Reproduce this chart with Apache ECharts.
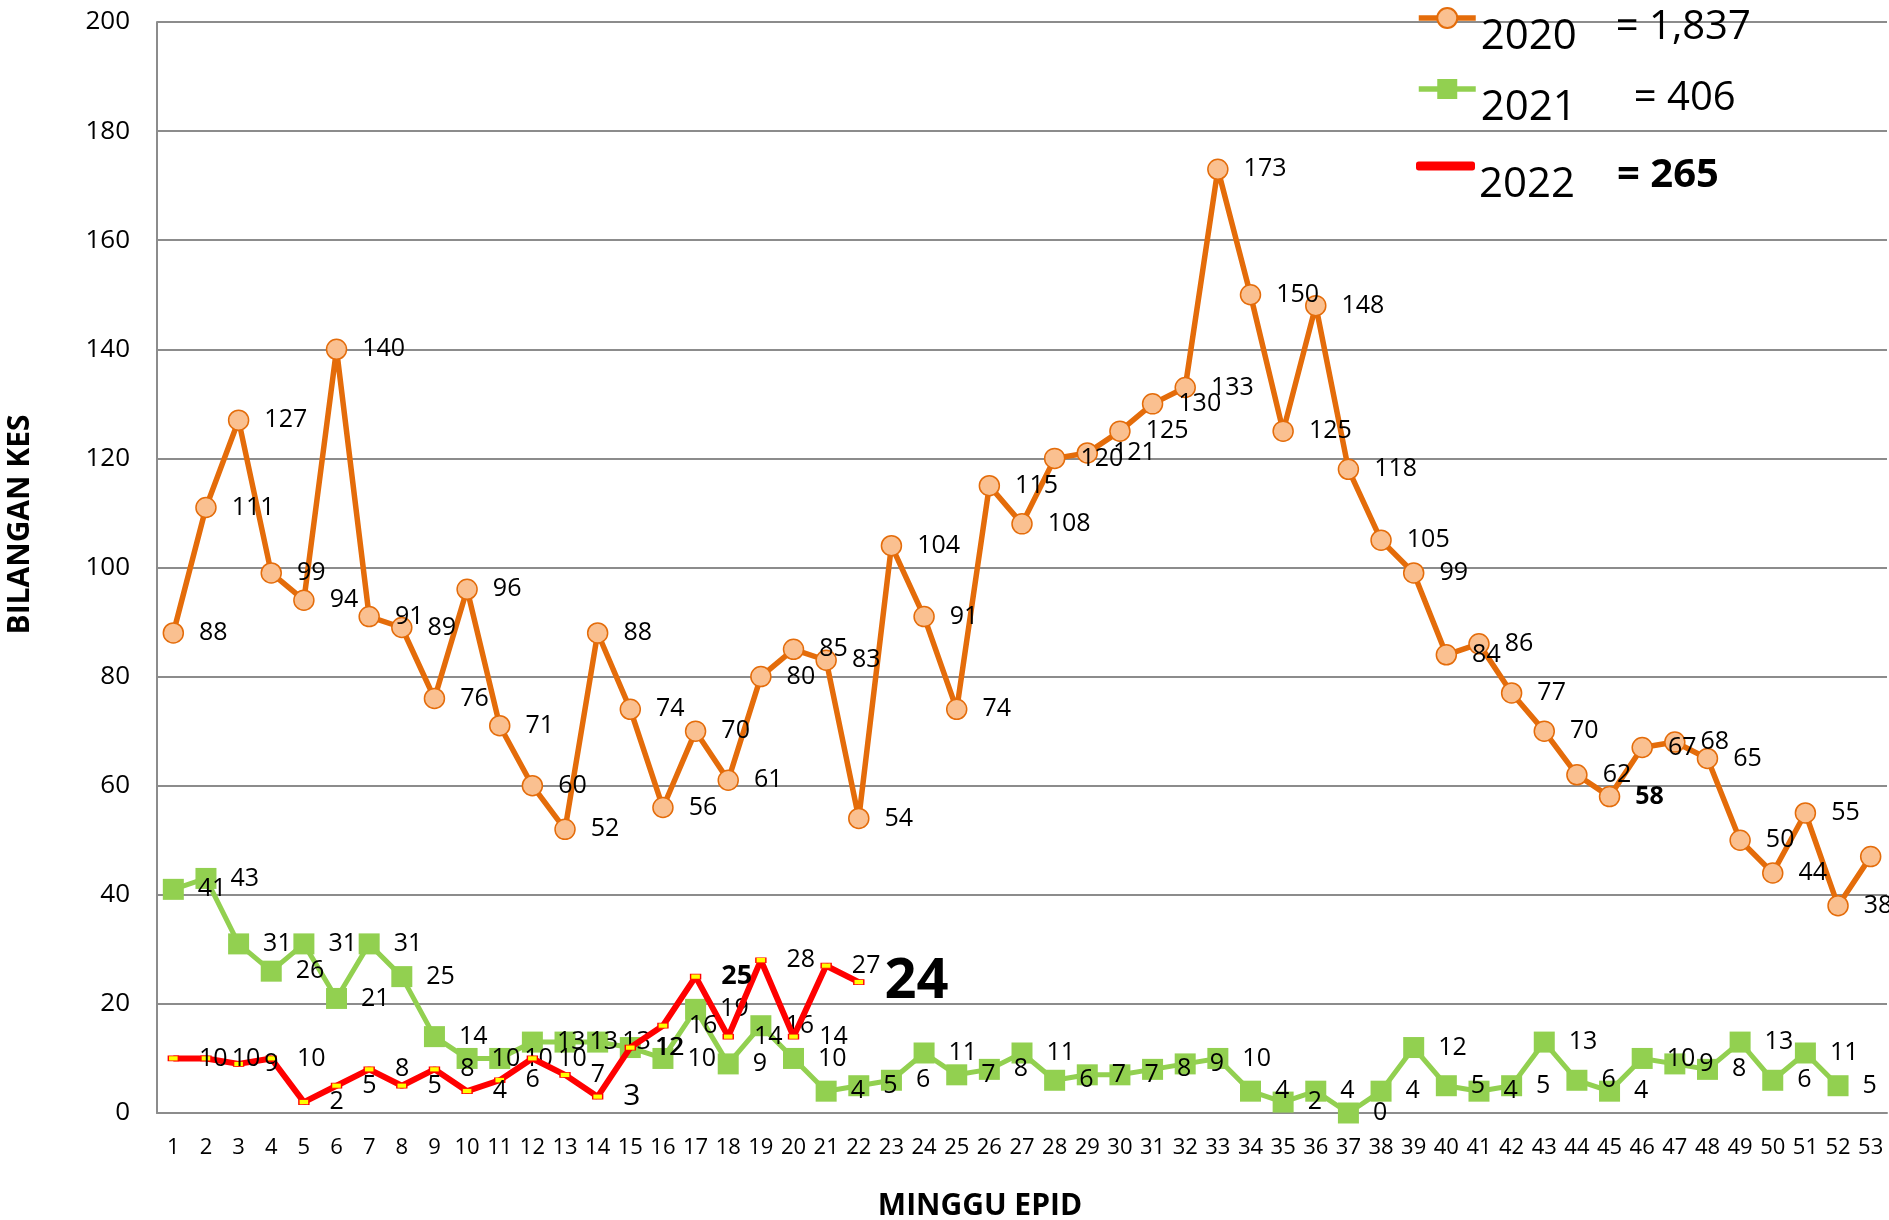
<!DOCTYPE html>
<html>
<head>
<meta charset="utf-8">
<script src="https://cdn.jsdelivr.net/npm/echarts@6/dist/echarts.min.js"></script>
<style>
  html, body { margin: 0; padding: 0; background: #fff; }
  #main { width: 1889px; height: 1220px; }
</style>
</head>
<body>
<div id="main"></div>
<script>
// minggu epid 1..53
const weeks = ['1','2','3','4','5','6','7','8','9','10','11','12','13','14','15','16','17','18','19','20',
  '21','22','23','24','25','26','27','28','29','30','31','32','33','34','35','36','37','38','39','40',
  '41','42','43','44','45','46','47','48','49','50','51','52','53'];

const cases2020 = [88,111,127,99,94,140,91,89,76,96,71,60,52,88,74,56,70,61,80,85,
  83,54,104,91,74,115,108,120,121,125,130,133,173,150,125,148,118,105,99,84,
  86,77,70,62,58,67,68,65,50,44,55,38,47];
const cases2021 = [41,43,31,26,31,21,31,25,14,10,10,13,13,13,12,10,19,9,16,10,
  4,5,6,11,7,8,11,6,7,7,8,9,10,4,2,4,0,4,12,5,
  4,5,13,6,4,10,9,8,13,6,11,5];
const cases2022 = [10,10,9,10,2,5,8,5,8,4,6,10,7,3,12,16,25,14,28,14,27,24];

const seriesNames = ['2020', '2021', '2022'];
const legendTotals = ['= 1,837', '= 406', '= 265'];

const FONT = 'Open Sans';

// label overrides by index (bold / bigger ones in the original)
const labelStyle2020 = { 44: { fontWeight: 'bold' } };
const labelStyle2022 = {
  13: { fontSize: 30 },
  16: { fontWeight: 'bold', fontSize: 27 },
  21: { fontWeight: 'bold', fontSize: 56 }
};

const withLabels = (values, styles) =>
  values.map((v, i) => (styles[i] ? { value: v, label: styles[i] } : v));

const dataLabel = (distance) => ({
  show: true,
  position: 'right',
  distance,
  color: '#000',
  fontFamily: FONT,
  fontSize: 25
});

// legend rows: top of each row box, width of the year part
const legendLayout = [
  { top: -22, yearWidth: 135 },
  { top: 49, yearWidth: 153 },
  { top: 126, yearWidth: 138 }
];

const chart = echarts.init(document.getElementById('main'));

const option = {
  animation: false,
  backgroundColor: '#fff',
  textStyle: { fontFamily: FONT },
  grid: { left: 157, right: 2, top: 22, bottom: 107, outerBoundsMode: 'none' },
  legend: seriesNames.map((name, i) => ({
    data: [i === 2 ? { name, icon: 'roundRect', itemStyle: { color: '#FF0000' } } : name],
    left: 1416,
    top: legendLayout[i].top,
    padding: 0,
    itemWidth: 57,
    itemHeight: i === 2 ? 7 : 25,
    selectedMode: false,
    lineStyle: { width: 5.5 },
    formatter: n => '{y|' + n + '}{t|' + legendTotals[i] + '}',
    textStyle: {
      rich: {
        y: {
          fontFamily: FONT, fontSize: 42, lineHeight: 50, color: '#000',
          width: legendLayout[i].yearWidth, padding: [38, 0, 0, 0]
        },
        t: {
          fontFamily: FONT, fontSize: 40, lineHeight: 50, color: '#000',
          fontWeight: i === 2 ? 'bold' : 'normal', padding: [20, 0, 0, 0]
        }
      }
    }
  })),
  xAxis: {
    type: 'category',
    data: weeks,
    boundaryGap: true,
    name: 'MINGGU EPID',
    nameLocation: 'middle',
    nameGap: 78,
    nameTextStyle: {
      fontFamily: FONT, fontSize: 30, fontWeight: 'bold', color: '#000',
      padding: [0, 84, 0, 0]
    },
    axisLine: { lineStyle: { color: '#8c8c8c', width: 2 } },
    axisTick: { show: false },
    axisLabel: { interval: 0, fontSize: 22, color: '#000', margin: 24 }
  },
  yAxis: {
    type: 'value',
    min: 0,
    max: 200,
    interval: 20,
    name: 'BILANGAN KES',
    nameLocation: 'middle',
    nameGap: 122,
    nameTextStyle: {
      fontFamily: FONT, fontSize: 30, fontWeight: 'bold', color: '#000',
      padding: [0, 0, 0, 86]
    },
    axisLine: { show: true, lineStyle: { color: '#8c8c8c', width: 2 } },
    axisTick: { show: false },
    axisLabel: { fontSize: 26, color: '#000', margin: 27 },
    splitLine: { lineStyle: { color: '#8c8c8c', width: 2 } }
  },
  series: [
    {
      name: '2020',
      type: 'line',
      data: withLabels(cases2020, labelStyle2020),
      symbol: 'circle',
      symbolSize: 20,
      lineStyle: { color: '#E46C0A', width: 5.5 },
      itemStyle: { color: '#FAC090', borderColor: '#E46C0A', borderWidth: 1.5 },
      label: dataLabel(15),
      z: 2
    },
    {
      name: '2021',
      type: 'line',
      data: cases2021,
      symbol: 'rect',
      symbolSize: 21,
      lineStyle: { color: '#92D050', width: 5 },
      itemStyle: { color: '#92D050' },
      label: dataLabel(14),
      z: 3
    },
    {
      name: '2022',
      type: 'line',
      data: withLabels(cases2022, labelStyle2022),
      symbol: 'rect',
      symbolSize: [10, 5],
      lineStyle: { color: '#FF0000', width: 6 },
      itemStyle: { color: '#FFFF00', borderColor: '#FF0000', borderWidth: 1 },
      label: dataLabel(20),
      z: 4
    }
  ]
};

chart.setOption(option);
</script>
</body>
</html>
